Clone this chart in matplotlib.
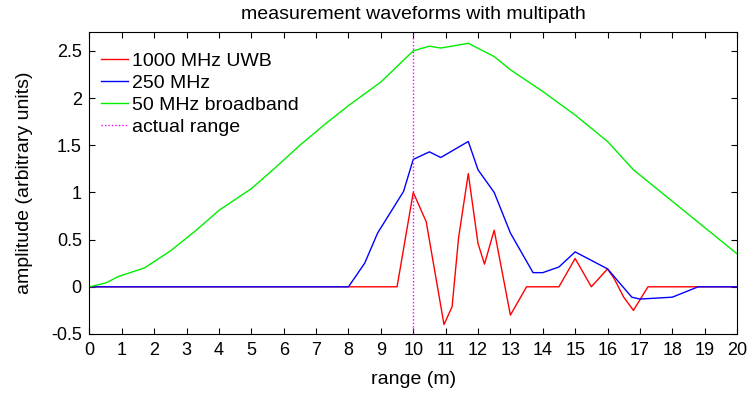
import matplotlib
matplotlib.use("Agg")
matplotlib.rcParams["font.family"] = ["Liberation Sans", "DejaVu Sans"]
matplotlib.rcParams["axes.unicode_minus"] = False

import matplotlib.pyplot as plt

# ── data ──
uwb_x = [0, 9.5, 10.0, 10.4, 10.95, 11.2, 11.4, 11.7, 12.0, 12.2, 12.5, 13.0, 13.5,
         14.5, 15.0, 15.5, 16.0, 16.2, 16.5, 16.8, 17.25, 20]
uwb_y = [0, 0, 1.0, 0.69, -0.40, -0.21, 0.52, 1.20, 0.46, 0.24, 0.60, -0.30, 0,
         0, 0.30, 0, 0.19, 0.09, -0.11, -0.25, 0, 0]

mhz250_x = [0, 8.0, 8.5, 8.9, 9.7, 10.0, 10.5, 10.85, 11.7, 12.0, 12.5, 13.0, 13.7,
            14.0, 14.5, 15.0, 16.0, 16.75, 17.0, 18.0, 18.8, 20]
mhz250_y = [0, 0, 0.25, 0.57, 1.01, 1.35, 1.43, 1.37, 1.54, 1.24, 1.0, 0.57, 0.15,
            0.15, 0.21, 0.37, 0.19, -0.11, -0.13, -0.11, 0, 0]

bb_x = [0, 0.5, 0.9, 1.7, 2.5, 3.3, 4.0, 5.0, 5.7, 6.5, 7.3, 8.0, 9.0, 10.0, 10.5,
        10.85, 11.7, 12.5, 13.0, 14.0, 15.0, 16.0, 16.8, 20]
bb_y = [0, 0.04, 0.11, 0.20, 0.38, 0.60, 0.81, 1.04, 1.25, 1.50, 1.73, 1.92, 2.17,
        2.50, 2.55, 2.53, 2.58, 2.44, 2.30, 2.07, 1.82, 1.54, 1.24, 0.35]

actual_range = 10.0

xticks = list(range(0, 21))
yticks = [-0.5, 0, 0.5, 1, 1.5, 2, 2.5]
ytick_labels = ["-0.5", "0", "0.5", "1", "1.5", "2", "2.5"]

fig = plt.figure(figsize=(7.53, 3.96), dpi=100)
ax = fig.add_axes([0.1188, 0.1566, 0.8600, 0.7626])

ax.plot(uwb_x, uwb_y, color="#ff0000", lw=1.0, label="1000 MHz UWB")
ax.plot(mhz250_x, mhz250_y, color="#0000ff", lw=1.0, label="250 MHz")
ax.plot(bb_x, bb_y, color="#00ee00", lw=1.0, label="50 MHz broadband")
ax.axvline(actual_range, color="#ff00ff", lw=1.0, ls=(0, (1, 1.5)), label="actual range")

ax.set_xlim(0, 20)
ax.set_ylim(-0.5, 2.7)
ax.set_xticks(xticks)
ax.set_yticks(yticks)
ax.set_yticklabels(ytick_labels)
ax.tick_params(direction="in", top=True, right=True, length=4, width=0.8,
               labelsize=13, pad=5.5)

ax.set_title("measurement waveforms with multipath", fontsize=14, pad=9)
ax.set_xlabel("range (m)", fontsize=14, labelpad=9)
ax.set_ylabel("amplitude (arbitrary units)", fontsize=14, labelpad=13)

ax.legend(loc="upper left", bbox_to_anchor=(0.018, 0.933), frameon=False,
          fontsize=14, handlelength=1.4, handletextpad=0.2, labelspacing=0.23,
          borderaxespad=0, borderpad=0)

fig.savefig("out.png", dpi=100)
